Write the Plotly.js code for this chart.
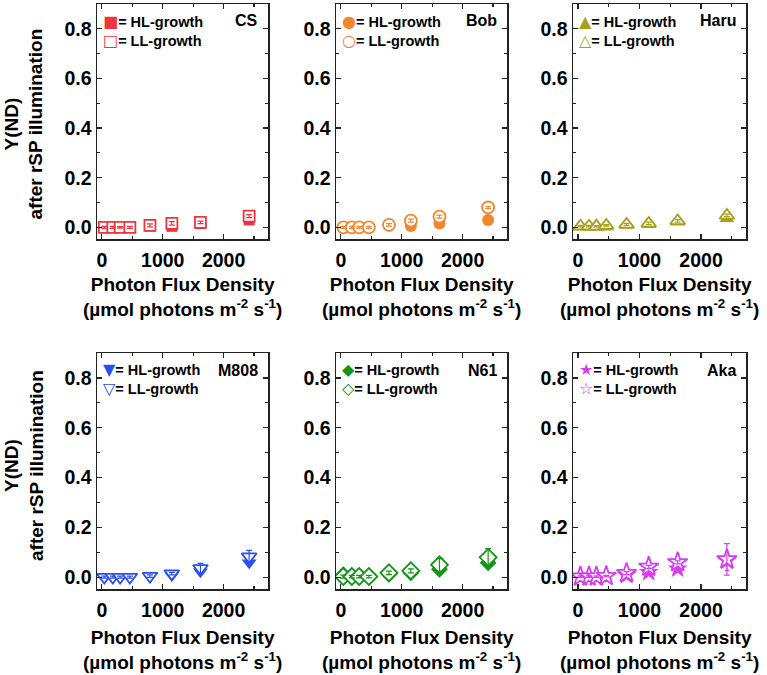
<!DOCTYPE html>
<html>
<head>
<meta charset="utf-8">
<script src="https://cdn.plot.ly/plotly-3.0.1.min.js"></script>
<style>html,body{margin:0;padding:0;background:#fff;}#chart{width:767px;height:675px;}</style>
</head>
<body>
<div id="chart"></div>
<script>
// ---- data ----
const strains = ["CS", "Bob", "Haru", "M808", "N61", "Aka"];
const pfd = [40, 180, 300, 460, 790, 1150, 1620, 2420];

const csHL = [0, 0, 0, 0, 0.005, 0.004, 0.015, 0.03];
const csLL = [0, 0, 0, 0, 0.008, 0.016, 0.02, 0.045];
const csLLerr = [0.004, 0.004, 0.003, 0.004, 0.006, 0.007, 0.005, 0.006];

const bobHL = [0, 0, 0, 0, 0.007, 0.005, 0.015, 0.03];
const bobLL = [0, 0, 0, 0, 0.01, 0.027, 0.043, 0.08];
const bobLLerr = [0.004, 0.004, 0.004, 0.004, 0.005, 0.006, 0.006, 0.004];

const haruHL = [0, 0, 0, 0, 0.007, 0.01, 0.02, 0.035];
const haruLL = [0.005, 0.005, 0.004, 0.008, 0.012, 0.016, 0.026, 0.048];
const haruLLerr = [0.003, 0.003, 0.003, 0.003, 0.004, 0.005, 0.005, 0.005];

const m808HL = [0, 0, 0, 0, 0.003, 0.007, 0.022, 0.058];
const m808LL = [0.001, 0.001, 0.001, 0.001, 0.005, 0.015, 0.036, 0.083];
const m808LLerr = [0.004, 0.004, 0.004, 0.004, 0.005, 0.005, 0.02, 0.025];

const n61HL = [0.01, 0.005, 0.005, 0.005, 0.012, 0.018, 0.032, 0.058];
const n61LL = [0.003, 0.003, 0.003, 0.003, 0.018, 0.026, 0.05, 0.08];
const n61LLerr = [0.006, 0.005, 0.005, 0.005, 0.007, 0.008, 0.025, 0.035];

const akaHL = [0.003, 0.003, 0.003, 0.005, 0.008, 0.02, 0.034, 0.065];
const akaLL = [0.003, 0.003, 0.003, 0.005, 0.017, 0.042, 0.06, 0.072];
const akaLLerr = [0.003, 0.003, 0.003, 0.003, 0.006, 0.006, 0.006, 0.063];

const hlSeries = [csHL, bobHL, haruHL, m808HL, n61HL, akaHL];
const llSeries = [csLL, bobLL, haruLL, m808LL, n61LL, akaLL];
const llErrors = [csLLerr, bobLLerr, haruLLerr, m808LLerr, n61LLerr, akaLLerr];

const colors = ["#f0343e", "#f0862e", "#a8a01c", "#2c4ff0", "#149614", "#d63cf2"];
const symbols = ["square", "circle", "triangle-up", "triangle-down", "diamond", "star"];
const sizes = [11, 12, 13, 13, 13, 15];
const hlGlyphs = ["■", "●", "▲", "▼", "◆", "★"];
const llGlyphs = ["□", "○", "△", "▽", "◇", "☆"];

const hlName = "= HL-growth";
const llName = "= LL-growth";
const xTitle = "Photon Flux Density<br>(µmol photons m<sup>-2</sup> s<sup>-1</sup>)";
const yTitle = "Y(ND)<br>after rSP illumination";

// ---- layout geometry (pixels) ----
const W = 767, H = 675;
const colPx = [[97, 268], [336, 507], [573, 746]];
const rowPx = [[4, 239], [353, 589]];

const FONT = "Liberation Sans, Arial, Helvetica, sans-serif";
const traces = [];
const layout = {
  width: W, height: H,
  margin: {l: 0, r: 0, t: 0, b: 0},
  paper_bgcolor: "#fff", plot_bgcolor: "#fff",
  showlegend: false,
  font: {family: FONT, color: "#000"},
  annotations: []
};

strains.forEach((s, i) => {
  const r = Math.floor(i / 3), c = i % 3;
  const sfx = i === 0 ? "" : String(i + 1);
  const xa = "x" + sfx, ya = "y" + sfx;
  const [pl, pr] = colPx[c];
  const [pt, pb] = rowPx[r];
  const dx = [pl / W, pr / W];
  const dy = [1 - pb / H, 1 - pt / H];

  traces.push({
    x: pfd, y: hlSeries[i], xaxis: xa, yaxis: ya,
    type: "scatter", mode: "markers", name: s + " HL-growth",
    marker: {symbol: symbols[i], size: sizes[i], color: colors[i], line: {width: 0}},
    error_y: {type: "data", array: llErrors[i].map(v => v * 0.6), color: colors[i], thickness: 1, width: 2}
  });
  traces.push({
    x: pfd, y: llSeries[i], xaxis: xa, yaxis: ya,
    type: "scatter", mode: "markers", name: s + " LL-growth",
    marker: {symbol: symbols[i], size: sizes[i], color: "#fff", line: {width: 1.8, color: colors[i]}}
  });
  traces.push({
    x: pfd, y: llSeries[i], xaxis: xa, yaxis: ya, hoverinfo: "skip",
    type: "scatter", mode: "markers", name: s + " LL error",
    marker: {size: 1, color: "rgba(0,0,0,0)"},
    error_y: {type: "data", array: llErrors[i], color: colors[i], thickness: 1.2, width: 3}
  });

  const axCommon = {
    showline: true, linecolor: "#222", linewidth: 1.5, mirror: "ticks",
    ticks: "inside", ticklen: 5, tickwidth: 1.2, tickcolor: "#222",
    showgrid: false, zeroline: false,
    tickfont: {family: FONT, size: 19.5, weight: "bold", color: "#000"}
  };
  layout["xaxis" + sfx] = Object.assign({}, axCommon, {
    domain: dx, anchor: ya, range: [-80, 2730],
    tickvals: [0, 1000, 2000], ticklabelstandoff: 3,
    minor: {dtick: 500, tick0: 0, ticks: "inside", ticklen: 3, tickcolor: "#222", showgrid: false}
  });
  layout["yaxis" + sfx] = Object.assign({}, axCommon, {
    domain: dy, anchor: xa, range: [-0.047, 0.9],
    tickvals: [0, 0.2, 0.4, 0.6, 0.8], tickformat: ".1f",
    minor: {dtick: 0.1, tick0: 0, ticks: "inside", ticklen: 3, tickcolor: "#222", showgrid: false}
  });

  // legend block (one annotation, two lines)
  const glyph = (g) => '<span style="color:' + colors[i] + ';font-family:DejaVu Sans;font-size:16px;font-weight:normal">' + g + '</span>';
  layout.annotations.push({
    xref: "paper", yref: "paper", x: (pl + 5) / W, y: 1 - (pt + 26.5) / H,
    xanchor: "left", yanchor: "middle", align: "left", showarrow: false, borderpad: 0,
    text: glyph(hlGlyphs[i]) + hlName + "<br>" + glyph(llGlyphs[i]) + llName,
    font: {family: FONT, size: 14.5, weight: "bold", color: "#000"}
  });

  layout.annotations.push({
    xref: "paper", yref: "paper", x: (pr - 8) / W, y: 1 - (pt + 17) / H,
    xanchor: "right", yanchor: "middle", showarrow: false, text: s,
    font: {family: FONT, size: 16, weight: "bold", color: "#000"}
  });
  layout.annotations.push({
    xref: "paper", yref: "paper", x: (pl + pr) / 2 / W, y: 1 - (pb + 58 + 3 * r) / H,
    xanchor: "center", yanchor: "middle", showarrow: false, text: xTitle,
    font: {family: FONT, size: 19, weight: "bold", color: "#000"}
  });
  if (c === 0) {
    layout.annotations.push({
      xref: "paper", yref: "paper", x: 24 / W, y: 1 - ((pt + pb) / 2 + 3 - 8 * r) / H,
      xanchor: "center", yanchor: "middle", showarrow: false, textangle: -90, text: yTitle,
      font: {family: FONT, size: 19, weight: "bold", color: "#000"}
    });
  }
});

Plotly.newPlot("chart", traces, layout, {staticPlot: true});
</script>
</body>
</html>
